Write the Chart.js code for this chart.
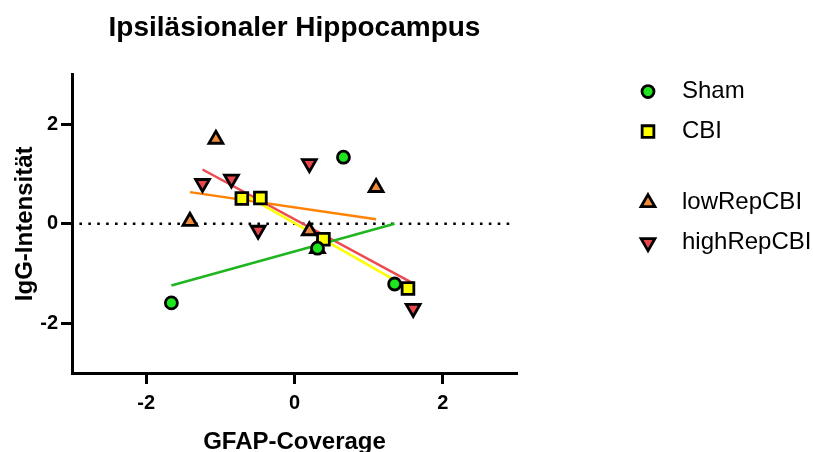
<!DOCTYPE html>
<html lang="de">
<head>
<meta charset="utf-8">
<title>Ipsiläsionaler Hippocampus</title>
<script src="https://cdn.jsdelivr.net/npm/chart.js@4.4.1/dist/chart.umd.min.js"></script>
<style>
  html, body { margin: 0; padding: 0; background: #fff; }
  canvas { display: block; }
</style>
</head>
<body>
<canvas id="chart" width="813" height="452"></canvas>
<script>
// GFAP-Coverage (x) vs IgG-Intensität (y)
const groups = ['Sham', 'CBI', 'lowRepCBI', 'highRepCBI'];

const shamX = [-1.66, 0.66, 0.31, 1.35];
const shamY = [-1.59, 1.34, -0.49, -1.21];

const cbiX = [-0.71, -0.46, 0.39, 1.53];
const cbiY = [0.51, 0.52, -0.31, -1.30];

const lowRepX = [-1.06, -1.41, 0.20, 1.10, 0.31];
const lowRepY = [1.70, 0.05, -0.14, 0.73, -0.50];

const highRepX = [-1.24, -0.85, 0.20, -0.49, 1.60];
const highRepY = [0.81, 0.90, 1.21, -0.13, -1.70];

const xTicks = [-2, 0, 2];
const yTicks = [-2, 0, 2];
const zeroLineX = [-2.9, 2.9];

const FONT = "'Liberation Sans', Arial, Helvetica, sans-serif";

const styles = [
  { fill: '#1ee61e', line: '#1fb51f', pointStyle: 'circle',   radius: 6,   rotation: 0 },
  { fill: '#ffff00', line: '#ffff00', pointStyle: 'rect',     radius: 8.3, rotation: 0 },
  { fill: '#ee8a3c', line: '#ff8200', pointStyle: 'triangle', radius: 8,   rotation: 0 },
  { fill: '#e8464a', line: '#ec4a50', pointStyle: 'triangle', radius: 8,   rotation: 180 }
];
const MARKER_BORDER = 2.8;

const groupX = [shamX, cbiX, lowRepX, highRepX];
const groupY = [shamY, cbiY, lowRepY, highRepY];

// least squares line over the x range of a group
function fitLine(xs, ys) {
  const n = xs.length;
  const mx = xs.reduce((a, b) => a + b, 0) / n;
  const my = ys.reduce((a, b) => a + b, 0) / n;
  let sxy = 0, sxx = 0;
  xs.forEach((x, i) => {
    sxy += (x - mx) * (ys[i] - my);
    sxx += (x - mx) * (x - mx);
  });
  const slope = sxy / sxx;
  const x0 = Math.min(...xs), x1 = Math.max(...xs);
  return [{ x: x0, y: my + slope * (x0 - mx) }, { x: x1, y: my + slope * (x1 - mx) }];
}

const pointSets = groups.map((name, i) => ({
  label: name,
  data: groupX[i].map((x, j) => ({ x: x, y: groupY[i][j] })),
  pointStyle: styles[i].pointStyle,
  rotation: styles[i].rotation,
  pointRadius: styles[i].radius,
  pointBackgroundColor: styles[i].fill,
  pointBorderColor: '#000',
  pointBorderWidth: MARKER_BORDER,
  showLine: false,
  clip: false,
  order: i
}));

const fitSets = groups.map((name, i) => ({
  label: name + ' fit',
  data: fitLine(groupX[i], groupY[i]),
  showLine: true,
  borderColor: styles[i].line,
  borderWidth: 2.5,
  pointRadius: 0,
  order: 10 + i
}));

const zeroSet = {
  label: 'zero',
  data: zeroLineX.map(x => ({ x: x, y: 0 })),
  showLine: true,
  borderColor: '#000',
  borderWidth: 2.5,
  borderDash: [2.6, 6.3],
  pointRadius: 0,
  order: 30
};

const legendPlugin = {
  id: 'groupLegend',
  afterDraw(chart) {
    const { ctx, chartArea } = chart;
    const rowY = [17, 57, 128, 168];
    ctx.save();
    ctx.font = '24px ' + FONT;
    ctx.textBaseline = 'middle';
    groups.forEach((name, i) => {
      const s = styles[i];
      const y = chartArea.top + rowY[i];
      ctx.fillStyle = s.fill;
      ctx.strokeStyle = '#000';
      ctx.lineWidth = MARKER_BORDER;
      Chart.helpers.drawPoint(ctx, {
        pointStyle: s.pointStyle, rotation: s.rotation, radius: s.radius, borderWidth: MARKER_BORDER
      }, chartArea.right + 131, y);
      ctx.fillStyle = '#000';
      ctx.fillText(name, chartArea.right + 165, y);
    });
    ctx.restore();
  }
};

new Chart(document.getElementById('chart'), {
  type: 'scatter',
  data: { datasets: [...pointSets, ...fitSets, zeroSet] },
  options: {
    responsive: false,
    animation: false,
    events: [],
    layout: { padding: { left: 0, top: 0, bottom: 0, right: 296 } },
    plugins: {
      legend: { display: false },
      tooltip: { enabled: false },
      title: {
        display: true,
        text: 'Ipsiläsionaler Hippocampus',
        fullSize: false,
        color: '#000',
        font: { family: FONT, size: 28, weight: 'bold', lineHeight: 1.2 },
        padding: { top: 11, bottom: 30 }
      }
    },
    scales: {
      x: {
        type: 'linear',
        min: -3,
        max: 3,
        afterBuildTicks: s => { s.ticks = xTicks.map(v => ({ value: v })); },
        afterFit: s => { s.height = 79; },
        border: { display: true, color: '#000', width: 3 },
        grid: { drawOnChartArea: false, drawTicks: true, tickLength: 11, tickWidth: 3, color: '#000', tickColor: '#000' },
        ticks: { color: '#000', padding: 7, font: { family: FONT, size: 20, weight: 'bold' } },
        title: {
          display: true, text: 'GFAP-Coverage', color: '#000',
          font: { family: FONT, size: 24, weight: 'bold', lineHeight: 0.84 },
          padding: 0
        }
      },
      y: {
        type: 'linear',
        min: -3,
        max: 3,
        afterBuildTicks: s => { s.ticks = yTicks.map(v => ({ value: v })); },
        afterFit: s => { s.width = 72; },
        border: { display: true, color: '#000', width: 3 },
        grid: { drawOnChartArea: false, drawTicks: true, tickLength: 11, tickWidth: 3, color: '#000', tickColor: '#000' },
        ticks: { color: '#000', padding: 3, font: { family: FONT, size: 20, weight: 'bold' } },
        title: {
          display: true, text: 'IgG-Intensität', color: '#000',
          font: { family: FONT, size: 24, weight: 'bold', lineHeight: 1.2 },
          padding: { top: 11, bottom: 0 }
        }
      }
    }
  },
  plugins: [legendPlugin]
});
</script>
</body>
</html>
